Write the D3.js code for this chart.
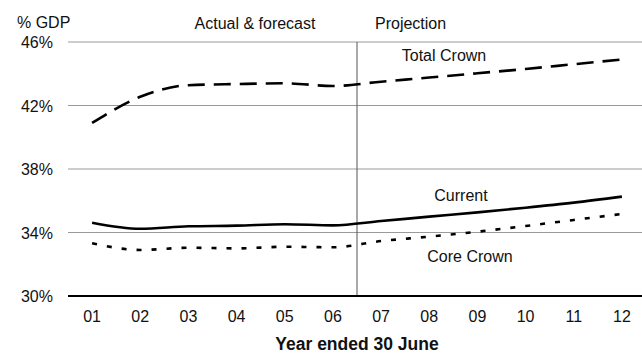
<!DOCTYPE html>
<html>
<head>
<meta charset="utf-8">
<script src="https://cdn.jsdelivr.net/npm/d3@7"></script>
<style>
  html, body { margin: 0; padding: 0; background: #fff; }
  svg { display: block; font-family: Arial, "Liberation Sans", sans-serif; }
</style>
</head>
<body>
<svg id="chart" width="642" height="356"></svg>
<script>
// Fiscal years (year ended 30 June), 2001–2012
const years = ["01", "02", "03", "04", "05", "06", "07", "08", "09", "10", "11", "12"];

// Expenses as % of GDP
const totalCrown = [40.9, 42.55, 43.28, 43.35, 43.4, 43.23, 43.5, 43.76, 44.03, 44.3, 44.6, 44.9];
const current    = [34.62, 34.24, 34.39, 34.43, 34.52, 34.45, 34.72, 35.0, 35.27, 35.56, 35.88, 36.26];
const coreCrown  = [33.32, 32.9, 33.04, 33.0, 33.1, 33.07, 33.46, 33.74, 34.05, 34.41, 34.79, 35.17];

const yTicks = [30, 34, 38, 42, 46];
const lastActual = "06";

const svg = d3.select("#chart");
const plotLeft = 68, plotRight = 646, plotTop = 42, plotBottom = 296;

const x = d3.scaleBand().domain(years).range([plotLeft, plotRight]).padding(0);
const y = d3.scaleLinear().domain([30, 46]).range([plotBottom, plotTop]);
const cx = d => x(d) + x.bandwidth() / 2;

// Horizontal gridlines (baseline drawn separately)
svg.append("g").selectAll("line")
  .data(yTicks.filter(t => t !== 30))
  .join("line")
  .attr("x1", plotLeft).attr("x2", 642)
  .attr("y1", d => y(d)).attr("y2", d => y(d))
  .attr("stroke", "#9a9a9a").attr("stroke-width", 1);

// Y tick labels
svg.append("g").selectAll("text")
  .data(yTicks)
  .join("text")
  .attr("x", 53).attr("y", d => y(d) + 6)
  .attr("text-anchor", "end")
  .attr("font-size", 16).attr("fill", "#111")
  .text(d => d + "%");

// Divider between actual/forecast and projection years
const divX = x(lastActual) + x.bandwidth();
svg.append("line")
  .attr("x1", divX).attr("x2", divX)
  .attr("y1", y(46)).attr("y2", y(30))
  .attr("stroke", "#555").attr("stroke-width", 1);

// Baseline
svg.append("line")
  .attr("x1", plotLeft).attr("x2", 642)
  .attr("y1", y(30)).attr("y2", y(30))
  .attr("stroke", "#000").attr("stroke-width", 2);

// X tick labels
svg.append("g").selectAll("text")
  .data(years)
  .join("text")
  .attr("x", d => cx(d)).attr("y", 322)
  .attr("text-anchor", "middle")
  .attr("font-size", 16).attr("fill", "#111")
  .text(d => d);

// Series lines
const line = d3.line()
  .x((d, i) => cx(years[i]))
  .y(d => y(d))
  .curve(d3.curveMonotoneX);

const series = [
  { values: totalCrown, dash: "17,9" },
  { values: current,    dash: null },
  { values: coreCrown,  dash: "5,10" }
];

svg.append("g").selectAll("path")
  .data(series)
  .join("path")
  .attr("d", d => line(d.values))
  .attr("fill", "none")
  .attr("stroke", "#000")
  .attr("stroke-width", 2.6)
  .attr("stroke-dasharray", d => d.dash);

// Text labels
const labels = [
  { t: "% GDP", x: 17, y: 28, a: "start" },
  { t: "Actual & forecast", x: 255, y: 29, a: "middle" },
  { t: "Projection", x: 375, y: 29, a: "start" },
  { t: "Total Crown", x: 444, y: 61, a: "middle" },
  { t: "Current", x: 461, y: 201, a: "middle" },
  { t: "Core Crown", x: 470, y: 262, a: "middle" }
];
svg.append("g").selectAll("text")
  .data(labels)
  .join("text")
  .attr("x", d => d.x).attr("y", d => d.y)
  .attr("text-anchor", d => d.a)
  .attr("font-size", 16).attr("fill", "#111")
  .text(d => d.t);

// Axis title
svg.append("text")
  .attr("x", 357).attr("y", 350)
  .attr("text-anchor", "middle")
  .attr("font-size", 17.5).attr("font-weight", "bold").attr("fill", "#111")
  .text("Year ended 30 June");
</script>
</body>
</html>
